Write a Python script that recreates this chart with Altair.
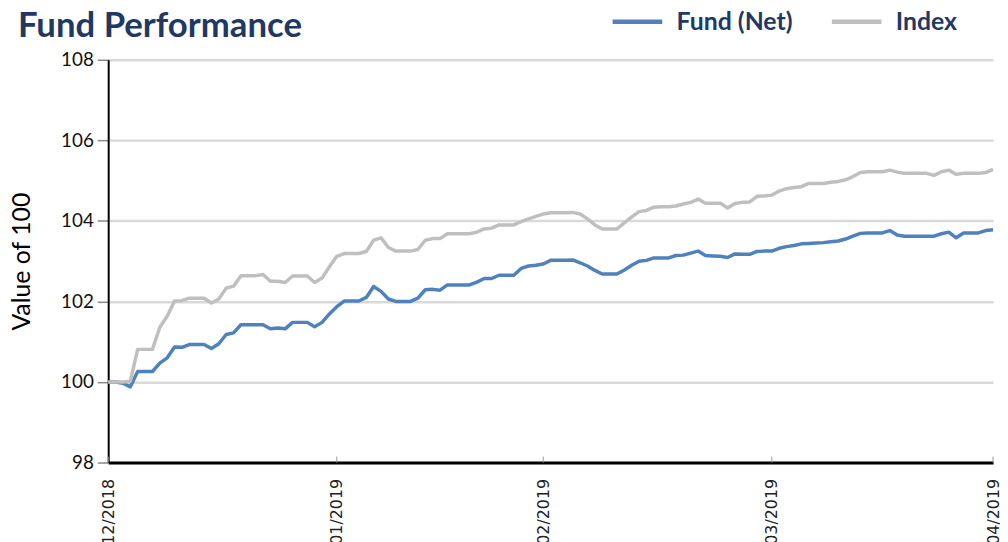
import altair as alt
import pandas as pd

start_date = "2018-12-31"
end_date = "2019-04-30"

fund_net = [
    100.0, 100.0, 99.97, 99.88, 100.26, 100.26, 100.26, 100.47, 100.6, 100.87,
    100.86, 100.93, 100.93, 100.93, 100.83, 100.95, 101.18, 101.22, 101.42, 101.42,
    101.42, 101.42, 101.32, 101.34, 101.32, 101.48, 101.48, 101.48, 101.37, 101.48,
    101.69, 101.87, 102.01, 102.01, 102.01, 102.1, 102.37, 102.25, 102.06, 102.0,
    102.0, 102.0, 102.08, 102.29, 102.3, 102.28, 102.41, 102.41, 102.41, 102.41,
    102.48, 102.57, 102.57, 102.65, 102.65, 102.65, 102.82, 102.88, 102.9, 102.93,
    103.02, 103.02, 103.02, 103.03, 102.96, 102.88, 102.77, 102.68, 102.68, 102.68,
    102.78, 102.9, 103.0, 103.02, 103.08, 103.08, 103.08, 103.14, 103.15, 103.2,
    103.25, 103.14, 103.13, 103.12, 103.09, 103.18, 103.17, 103.17, 103.24, 103.25,
    103.25, 103.32, 103.36, 103.39, 103.43, 103.44, 103.45, 103.46, 103.48, 103.5,
    103.55, 103.62, 103.69, 103.7, 103.7, 103.7, 103.76, 103.65, 103.62, 103.62,
    103.62, 103.62, 103.62, 103.68, 103.72, 103.58, 103.7, 103.7, 103.7, 103.76,
    103.78,
]

index_vals = [
    100.0, 100.0, 100.0, 100.02, 100.81, 100.81, 100.81, 101.36, 101.63, 102.01,
    102.02, 102.08, 102.08, 102.08, 101.96, 102.06, 102.33, 102.38, 102.64, 102.64,
    102.64, 102.67, 102.5, 102.5, 102.47, 102.63, 102.63, 102.63, 102.47, 102.58,
    102.86, 103.12, 103.19, 103.19, 103.19, 103.24, 103.52, 103.58, 103.34, 103.25,
    103.25, 103.25, 103.29, 103.52, 103.56, 103.56, 103.68, 103.68, 103.68, 103.68,
    103.72, 103.8, 103.82, 103.9, 103.9, 103.9, 103.98, 104.05, 104.11, 104.17,
    104.2, 104.2, 104.2, 104.21, 104.17, 104.05, 103.9, 103.8, 103.8, 103.8,
    103.95, 104.1, 104.23, 104.26, 104.34, 104.35, 104.35, 104.37, 104.42, 104.46,
    104.54, 104.44, 104.44, 104.44, 104.32, 104.43, 104.46, 104.47, 104.61, 104.62,
    104.64, 104.74, 104.8, 104.83, 104.85, 104.93, 104.93, 104.93, 104.96, 104.98,
    105.02, 105.1, 105.2, 105.22, 105.22, 105.22, 105.26, 105.21, 105.18, 105.18,
    105.18, 105.18, 105.13, 105.22, 105.26, 105.16, 105.18, 105.18, 105.18, 105.2,
    105.28,
]

chart_title = "Fund Performance"
series_names = ["Fund (Net)", "Index"]
series_colors = ["#4f81bd", "#bfbfbf"]
tick_dates = ["2018-12-31", "2019-01-31", "2019-02-28", "2019-03-31", "2019-04-30"]
y_ticks = [98, 100, 102, 104, 106, 108]

dates = pd.date_range(start_date, end_date, freq="D").strftime("%Y-%m-%dT00:00:00").tolist()

df = pd.concat([
    pd.DataFrame({"date": dates, "value": fund_net, "series": series_names[0]}),
    pd.DataFrame({"date": dates, "value": index_vals, "series": series_names[1]}),
])
ticks_df = pd.DataFrame({"date": [d + "T00:00:00" for d in tick_dates]})
title_df = pd.DataFrame({"t": [chart_title]})


def dt(s):
    y, m, d = (int(p) for p in s.split("-"))
    return alt.DateTime(year=y, month=m, date=d)


x_scale = alt.Scale(domain=[dt(start_date), dt(end_date)], nice=False)

lines = alt.Chart(df).mark_line(strokeWidth=3.5, strokeJoin="round").encode(
    x=alt.X(
        "date:T",
        scale=x_scale,
        axis=alt.Axis(
            values=[dt(s) for s in tick_dates],
            format="%m/%Y",
            labelAngle=270,
            labelAlign="right",
            labelBaseline="middle",
            labelFont="DejaVu Sans",
            labelFontSize=16,
            labelColor="#222222",
            labelPadding=16,
            labelOverlap=False,
            labelFlush=False,
            tickSize=0,
            domainColor="#000000",
            domainWidth=3,
            grid=False,
            title=None,
        ),
    ),
    y=alt.Y(
        "value:Q",
        scale=alt.Scale(domain=[98, 108], nice=False, zero=False),
        axis=alt.Axis(
            values=y_ticks,
            grid=True,
            gridColor="#d9d9d9",
            gridWidth=2.5,
            domainColor="#000000",
            domainWidth=2,
            tickColor="#888888",
            tickSize=11,
            tickWidth=1.5,
            labelFont="Lato",
            labelFontSize=19,
            labelColor="#111111",
            labelPadding=4,
            title="Value of 100",
            titleFont="Lato",
            titleFontSize=25,
            titleFontWeight="normal",
            titleColor="#000000",
            titlePadding=26,
        ),
    ),
    color=alt.Color(
        "series:N",
        scale=alt.Scale(domain=series_names, range=series_colors),
        legend=alt.Legend(
            title=None,
            orient="none",
            direction="horizontal",
            legendX=506,
            legendY=-66,
            symbolType="stroke",
            symbolSize=2500,
            symbolStrokeWidth=4.5,
            labelFont="Lato",
            labelFontSize=25,
            labelFontWeight="bold",
            labelColor="#1f3864",
            labelOffset=12,
            columnPadding=30,
            labelLimit=300,
        ),
    ),
)

xticks = alt.Chart(ticks_df).mark_rule(color="#999999", strokeWidth=1).encode(
    x=alt.X("date:T", scale=x_scale),
    y=alt.value(400),
    y2=alt.value(406),
)

title_mark = alt.Chart(title_df).mark_text(
    font="Lato",
    fontSize=35,
    fontWeight="bold",
    color="#1f3864",
    align="left",
    baseline="alphabetic",
).encode(
    text="t:N",
    x=alt.value(-91),
    y=alt.value(-23),
)

chart = alt.layer(lines, xticks, title_mark).properties(
    width=892,
    height=406,
    autosize=alt.AutoSizeParams(type="none"),
    padding={"left": 101, "top": 50, "right": 7, "bottom": 90},
).configure_view(stroke=None)

chart.save("out.html", embed_options={"renderer": "svg", "actions": False})
